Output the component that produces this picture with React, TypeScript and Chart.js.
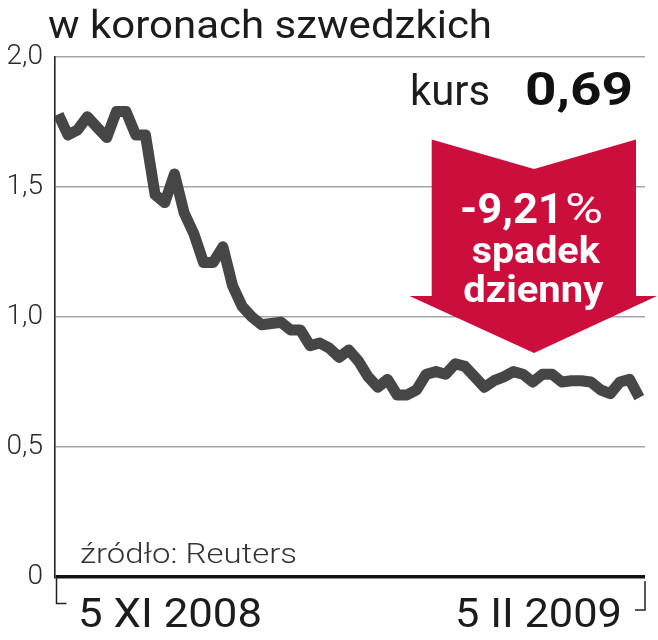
import React, { useEffect, useRef } from 'react';
import { Chart, registerables } from 'chart.js';

Chart.register(...registerables);

// ---- data ----
const titleText = 'w koronach szwedzkich';
const rateValues = [
  1.78, 1.70, 1.72, 1.77, 1.73, 1.69, 1.79, 1.79, 1.70, 1.70,
  1.47, 1.44, 1.55, 1.40, 1.32, 1.21, 1.21, 1.27, 1.12, 1.04,
  1.00, 0.97, 0.975, 0.98, 0.95, 0.95, 0.89, 0.90, 0.88, 0.845,
  0.873, 0.83, 0.77, 0.73, 0.76, 0.70, 0.70, 0.72, 0.78, 0.79,
  0.78, 0.82, 0.81, 0.77, 0.73, 0.755, 0.77, 0.79, 0.78, 0.75,
  0.78, 0.78, 0.75, 0.755, 0.755, 0.75, 0.72, 0.705, 0.75, 0.76,
  0.69,
];
const yTicks = [0, 0.5, 1, 1.5, 2];
const yTickLabels = ['0', '0,5', '1,0', '1,5', '2,0'];
const xLabels = ['5 XI 2008', '5 II 2009'];
const currentLabel = 'kurs';
const currentValue = '0,69';
const changeValue = '-9,21';
const changeUnit = '%';
const changeLines = ['spadek', 'dzienny'];
const sourceLabel = 'źródło: Reuters';

const FONT = 'Roboto, "Noto Sans", sans-serif';

function fitText(
  ctx: CanvasRenderingContext2D,
  text: string,
  x: number,
  y: number,
  width: number,
  font: string,
  color: string
) {
  ctx.save();
  ctx.font = font;
  ctx.fillStyle = color;
  ctx.textAlign = 'left';
  ctx.textBaseline = 'alphabetic';
  const w = ctx.measureText(text).width || 1;
  ctx.translate(x, y);
  ctx.scale(width / w, 1);
  ctx.fillText(text, 0, 0);
  ctx.restore();
}

const decorPlugin = {
  id: 'decor',
  afterDatasetsDraw(chart: any) {
    const ctx: CanvasRenderingContext2D = chart.ctx;
    // red arrow
    ctx.save();
    ctx.fillStyle = '#cc0e3d';
    ctx.beginPath();
    ctx.moveTo(431.7, 139.5);
    ctx.lineTo(534, 169);
    ctx.lineTo(636, 139.5);
    ctx.lineTo(636, 296);
    ctx.lineTo(657, 296);
    ctx.lineTo(534, 353);
    ctx.lineTo(409.5, 296);
    ctx.lineTo(431.7, 296);
    ctx.closePath();
    ctx.fill();
    ctx.restore();

    fitText(ctx, changeValue, 460, 223.3, 103, `bold 43px ${FONT}`, '#ffffff');
    fitText(ctx, changeUnit, 565, 223.3, 38, `400 43px ${FONT}`, '#ffffff');
    fitText(ctx, changeLines[0], 471.7, 263.3, 128, `bold 36px ${FONT}`, '#ffffff');
    fitText(ctx, changeLines[1], 463.3, 301.7, 140, `bold 36px ${FONT}`, '#ffffff');
  },
  afterDraw(chart: any) {
    const ctx: CanvasRenderingContext2D = chart.ctx;
    const area = chart.chartArea;
    // title
    fitText(ctx, titleText, 48, 38.3, 444, `400 38px ${FONT}`, '#1c1c1c');
    // current rate
    fitText(ctx, currentLabel, 410, 105, 80, `400 42px ${FONT}`, '#1c1c1c');
    fitText(ctx, currentValue, 525, 105, 108, `bold 47px ${FONT}`, '#111111');
    // source
    fitText(ctx, sourceLabel, 80, 563, 217, `300 28px ${FONT}`, '#333333');
    // x labels
    fitText(ctx, xLabels[0], 78, 627, 184, `400 41px ${FONT}`, '#1c1c1c');
    fitText(ctx, xLabels[1], 455, 627, 167, `400 41px ${FONT}`, '#1c1c1c');
    // brackets
    ctx.save();
    ctx.strokeStyle = '#222222';
    ctx.lineWidth = 1.5;
    ctx.beginPath();
    ctx.moveTo(area.left + 1.5, area.bottom);
    ctx.lineTo(area.left + 1.5, 603.5);
    ctx.lineTo(66.5, 603.5);
    ctx.moveTo(area.right, area.bottom + 4);
    ctx.lineTo(area.right, 610);
    ctx.lineTo(635, 610);
    ctx.stroke();
    ctx.restore();
  },
};

export default function App() {
  const ref = useRef<HTMLCanvasElement | null>(null);
  useEffect(() => {
    if (!ref.current) return;
    const n = rateValues.length;
    const chart = new Chart(ref.current, {
      type: 'line',
      data: {
        datasets: [
          {
            data: rateValues.map((v, i) => ({ x: i, y: v })),
            borderColor: '#464646',
            borderWidth: 11,
            pointRadius: 0,
            tension: 0,
            fill: false,
            borderJoinStyle: 'round',
            borderCapStyle: 'butt',
          } as any,
        ],
      },
      options: {
        animation: false,
        responsive: false,
        devicePixelRatio: 1,
        layout: { padding: { top: 57, bottom: 63, right: 13, left: 0 } },
        plugins: { legend: { display: false }, tooltip: { enabled: false } },
        scales: {
          x: { type: 'linear', display: false, min: -0.34, max: n - 1 + 0.59 },
          y: {
            min: 0,
            max: 2,
            afterFit: (s: any) => {
              s.width = 55;
            },
            afterBuildTicks: (s: any) => {
              s.ticks = yTicks.map((v) => ({ value: v }));
            },
            ticks: {
              padding: 12,
              color: '#2a2a2a',
              font: { family: FONT, size: 28, weight: '300' as any },
              callback: (v: any) => {
                const k = yTicks.indexOf(Number(v));
                return k >= 0 ? yTickLabels[k] : '';
              },
            },
            grid: {
              drawTicks: false,
              color: (c: any) => (c.tick && c.tick.value === 0 ? '#111111' : '#a5a5a5'),
              lineWidth: (c: any) => (c.tick && c.tick.value === 0 ? 3.5 : 1.5),
            },
            border: { display: true, color: '#222222', width: 1.6 },
          },
        },
      },
      plugins: [decorPlugin],
    });
    return () => chart.destroy();
  }, []);
  return (
    <div style={{ position: 'absolute', left: 0, top: 0, width: 658, height: 640, background: '#fff' }}>
      <canvas ref={ref} width={658} height={640} style={{ display: 'block' }} />
    </div>
  );
}
